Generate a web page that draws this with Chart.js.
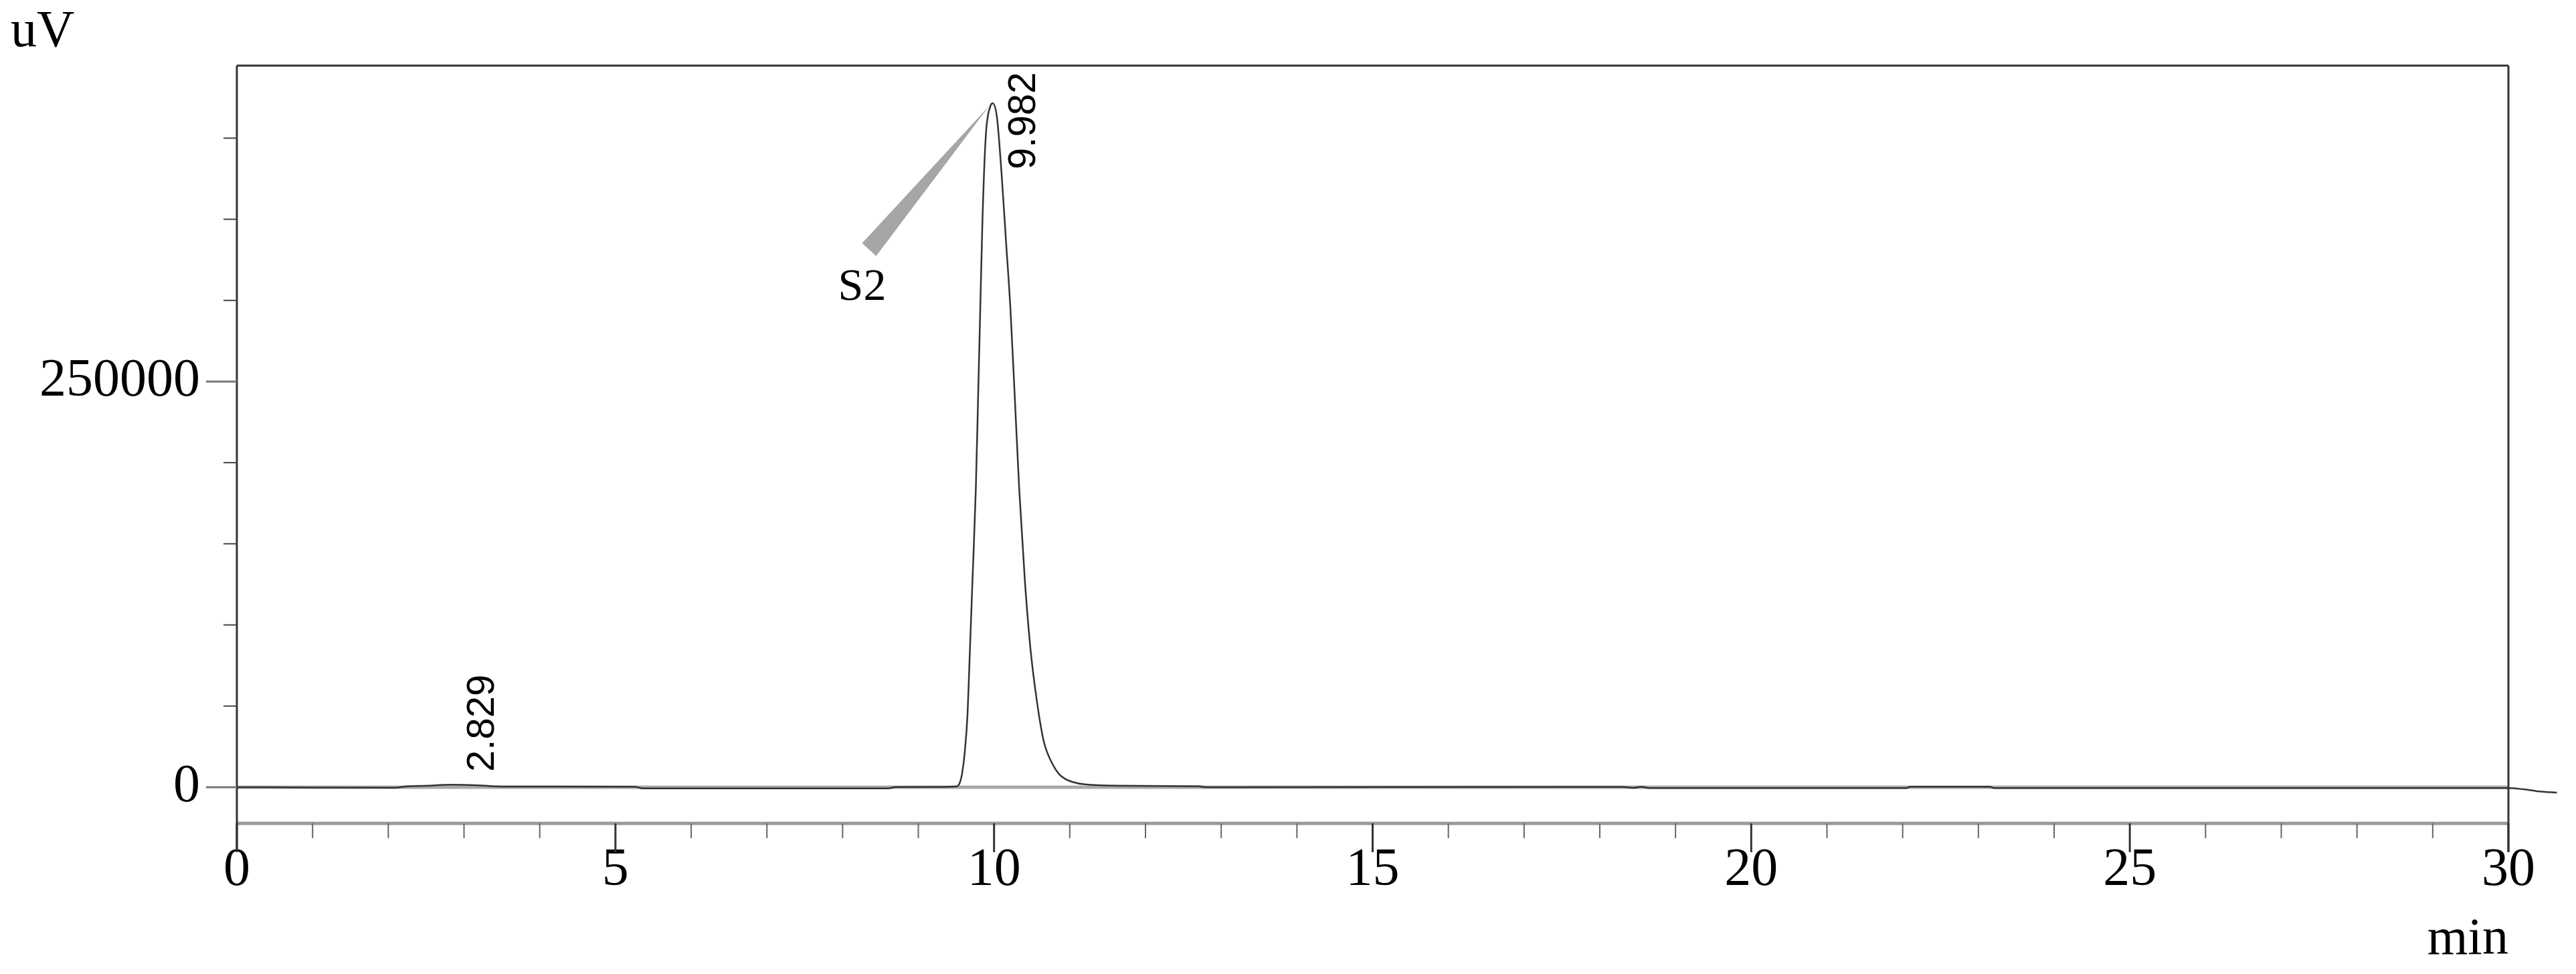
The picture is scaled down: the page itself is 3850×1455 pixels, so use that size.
<!DOCTYPE html>
<html>
<head>
<meta charset="utf-8">
<script src="https://cdn.jsdelivr.net/npm/chart.js@4"></script>
<style>
  html, body { margin: 0; padding: 0; background: #fff; }
  canvas { display: block; }
</style>
</head>
<body>
<canvas id="chromChart" width="3850" height="1455"></canvas>
<script>
// ── data ──
const timeMin = [
  0, 1.0, 2.1, 2.2, 2.5, 2.83, 3.2, 3.5, 5.25, 5.35, 8.6, 8.7, 9.3,
  9.509, 9.55, 9.58, 9.612, 9.65, 9.671, 9.715, 9.759, 9.789, 9.818, 9.848, 9.891, 9.951,
  9.982,
  10.039, 10.098, 10.157, 10.216, 10.275, 10.333, 10.407, 10.481, 10.569, 10.658, 10.775,
  10.86, 10.952, 11.04, 11.187, 11.7, 12.7, 12.8,
  18.3, 18.45, 18.55, 18.65, 22.05, 22.1, 23.15, 23.2, 30.0, 30.2, 30.4, 30.64
];
const signalUV = [
  0, -200, -300, 300, 900, 1500, 1100, 400, 300, -700, -700, 100, 200,
  500, 3000, 9000, 21000, 45000, 71300, 127300, 183200, 239200, 295100, 351000, 401400, 419600,
  421500,
  412600, 379000, 337100, 295100, 239200, 183200, 127300, 85300, 52000, 28000, 14000,
  8000, 4800, 3200, 1800, 900, 600, 0,
  200, -400, 300, -500, -500, 300, 300, -500, -500, -1300, -2600, -3300
];

// peaks: retention time, name, where the rotated label starts (uV)
const peakTimes = [2.829, 9.982];
const peakNames = ['', 'S2'];
const peakLabelBaseUV = [9500, 380800];

// name pointer for S2: tip and the two base corners [min, uV], name anchor
const pointerTip = [9.936, 419800];
const pointerBase = [[8.257, 335300], [8.443, 327300]];
const nameAnchor = [8.258, 300200];

const xTicks = Array.from({ length: 31 }, (_, i) => i);
const xLabelled = [0, 5, 10, 15, 20, 25, 30];
const yTicks = [0, 50000, 100000, 150000, 200000, 250000, 300000, 350000, 400000];
const yLabelled = [0, 250000];

const X_MIN = 0, X_MAX = 30;
const Y_MIN = -22300, Y_MAX = 444700;

const serif = '"Liberation Serif", "Times New Roman", serif';
const sans = '"Liberation Sans", Arial, sans-serif';

// ── frame, ticks and annotations ──
const framePlugin = {
  id: 'frame',
  beforeDatasetsDraw(chart) {
    const { ctx, chartArea: a, scales: { y } } = chart;
    ctx.save();
    // zero line
    ctx.strokeStyle = '#a9a9a9';
    ctx.lineWidth = 5;
    ctx.beginPath();
    ctx.moveTo(a.left, y.getPixelForValue(0));
    ctx.lineTo(a.right, y.getPixelForValue(0));
    ctx.stroke();
    ctx.restore();
  },
  afterDraw(chart) {
    const { ctx, chartArea: a, scales: { x, y } } = chart;
    ctx.save();
    // x axis line
    ctx.strokeStyle = '#9a9a9a';
    ctx.lineWidth = 5;
    ctx.beginPath();
    ctx.moveTo(a.left, a.bottom);
    ctx.lineTo(a.right, a.bottom);
    ctx.stroke();

    // top, left and right frame (side lines run down as the 0 / 30 ticks)
    ctx.strokeStyle = '#333';
    ctx.lineWidth = 3;
    ctx.beginPath();
    ctx.moveTo(a.left, a.top);
    ctx.lineTo(a.right, a.top);
    ctx.moveTo(a.left, a.top);
    ctx.lineTo(a.left, a.bottom + 43);
    ctx.moveTo(a.right, a.top);
    ctx.lineTo(a.right, a.bottom + 43);
    ctx.stroke();

    // x ticks
    xTicks.forEach(t => {
      const px = x.getPixelForValue(t);
      const major = xLabelled.includes(t);
      ctx.strokeStyle = major ? '#333' : '#666';
      ctx.lineWidth = major ? 3 : 2;
      ctx.beginPath();
      ctx.moveTo(px, a.bottom);
      ctx.lineTo(px, a.bottom + (major ? 43 : 22));
      ctx.stroke();
    });

    // y ticks
    yTicks.forEach(v => {
      const py = y.getPixelForValue(v);
      const major = yLabelled.includes(v);
      ctx.strokeStyle = major ? '#777' : '#444';
      ctx.lineWidth = major ? 3 : 2;
      ctx.beginPath();
      ctx.moveTo(a.left - (major ? 46 : 20), py);
      ctx.lineTo(a.left, py);
      ctx.stroke();
    });

    // S2 pointer wedge
    ctx.fillStyle = '#a6a6a6';
    ctx.beginPath();
    ctx.moveTo(x.getPixelForValue(pointerTip[0]), y.getPixelForValue(pointerTip[1]));
    pointerBase.forEach(p => ctx.lineTo(x.getPixelForValue(p[0]), y.getPixelForValue(p[1])));
    ctx.closePath();
    ctx.fill();

    // peak names
    ctx.fillStyle = '#000';
    ctx.font = `68px ${serif}`;
    ctx.textAlign = 'center';
    ctx.textBaseline = 'alphabetic';
    peakNames.forEach(n => {
      if (!n) return;
      ctx.fillText(n, x.getPixelForValue(nameAnchor[0]), y.getPixelForValue(nameAnchor[1]));
    });

    // rotated retention times
    ctx.font = `58px ${sans}`;
    ctx.textAlign = 'left';
    ctx.textBaseline = 'middle';
    peakTimes.forEach((t, i) => {
      ctx.save();
      ctx.translate(x.getPixelForValue(t + 0.42), y.getPixelForValue(peakLabelBaseUV[i]));
      ctx.rotate(-Math.PI / 2);
      ctx.fillText(t.toFixed(3), 0, 0);
      ctx.restore();
    });
    ctx.restore();
  }
};

new Chart(document.getElementById('chromChart'), {
  type: 'line',
  data: {
    datasets: [{
      data: timeMin.map((t, i) => ({ x: t, y: signalUV[i] })),
      borderColor: '#333',
      borderWidth: 2.5,
      pointRadius: 0,
      cubicInterpolationMode: 'monotone',
      clip: false
    }]
  },
  options: {
    responsive: false,
    devicePixelRatio: 1,
    animation: false,
    layout: { padding: { left: 16, right: 101, top: 0, bottom: 0 } },
    plugins: {
      legend: { display: false },
      tooltip: { enabled: false },
      title: {
        display: true,
        text: 'uV',
        align: 'start',
        color: '#000',
        font: { family: serif, size: 78, weight: 'normal', lineHeight: 1.2 },
        padding: { top: 2, bottom: 2.4 }
      }
    },
    scales: {
      x: {
        type: 'linear',
        // set here (not as min/max) so the trace past 30 min is still drawn
        afterDataLimits: s => { s.min = X_MIN; s.max = X_MAX; },
        afterBuildTicks: s => { s.ticks = xLabelled.map(v => ({ value: v })); },
        afterFit: s => { s.height = 225; },
        grid: { display: false },
        border: { display: false },
        ticks: {
          color: '#000',
          padding: 15,
          maxRotation: 0,
          autoSkip: false,
          callback: v => String(v),
          font: { family: serif, size: 80 }
        },
        title: {
          display: true,
          text: 'min',
          align: 'end',
          color: '#000',
          font: { family: serif, size: 78 },
          padding: { top: 0, bottom: 4 }
        }
      },
      y: {
        type: 'linear',
        min: Y_MIN,
        max: Y_MAX,
        afterBuildTicks: s => { s.ticks = yLabelled.map(v => ({ value: v })); },
        afterFit: s => { s.width = 338; },
        grid: { display: false },
        border: { display: false },
        ticks: {
          color: '#000',
          padding: 47,
          autoSkip: false,
          callback: v => String(v),
          font: { family: serif, size: 80 }
        }
      }
    }
  },
  plugins: [framePlugin]
});
</script>
</body>
</html>
